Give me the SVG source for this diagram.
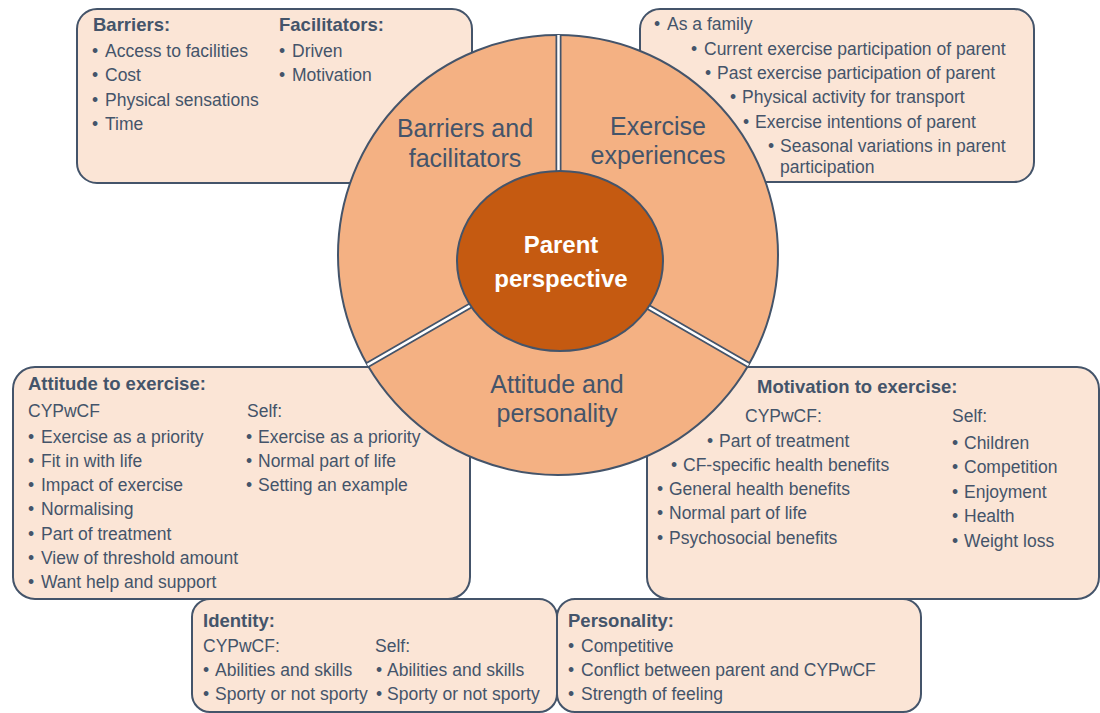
<svg xmlns="http://www.w3.org/2000/svg" width="1100" height="713" viewBox="0 0 1100 713">
<defs>
<style>
.box{fill:#FBE5D6;stroke:#44546A;stroke-width:2}
.t{font-family:"Liberation Sans",Arial,sans-serif;font-size:17.5px;fill:#44546A}
.b{font-weight:bold;font-size:18.5px}
.lbl{font-family:"Liberation Sans",Arial,sans-serif;font-size:25px;fill:#44546A;text-anchor:middle}
.ctr{font-family:"Liberation Sans",Arial,sans-serif;font-size:24px;font-weight:bold;fill:#FFFFFF;text-anchor:middle}
.divo{stroke:#44546A;stroke-width:6;fill:none}
.divi{stroke:#FFFFFF;stroke-width:2.5;fill:none}
</style>
<clipPath id="cc"><circle cx="558" cy="255" r="220"/></clipPath>
</defs>
<rect width="1100" height="713" fill="#FFFFFF"/>

<g id="barriers-box">
<rect class="box" x="77" y="9" width="395" height="174" rx="20"/>
<text class="t b" x="93" y="31">Barriers:</text>
<text class="t b" x="279" y="31">Facilitators:</text>
<text class="t" y="57"><tspan x="92">•</tspan><tspan x="105">Access to facilities</tspan></text>
<text class="t" y="81"><tspan x="92">•</tspan><tspan x="105">Cost</tspan></text>
<text class="t" y="106"><tspan x="92">•</tspan><tspan x="105">Physical sensations</tspan></text>
<text class="t" y="130"><tspan x="92">•</tspan><tspan x="105">Time</tspan></text>
<text class="t" y="57"><tspan x="279">•</tspan><tspan x="292">Driven</tspan></text>
<text class="t" y="81"><tspan x="279">•</tspan><tspan x="292">Motivation</tspan></text>
</g>

<g id="experiences-box">
<rect class="box" x="640" y="9" width="394" height="173" rx="20"/>
<text class="t" y="30"><tspan x="654">•</tspan><tspan x="667">As a family</tspan></text>
<text class="t" y="55"><tspan x="691">•</tspan><tspan x="704">Current exercise participation of parent</tspan></text>
<text class="t" y="79"><tspan x="705">•</tspan><tspan x="717">Past exercise participation of parent</tspan></text>
<text class="t" y="103"><tspan x="730">•</tspan><tspan x="742">Physical activity for transport</tspan></text>
<text class="t" y="128"><tspan x="743">•</tspan><tspan x="755">Exercise intentions of parent</tspan></text>
<text class="t" y="152"><tspan x="768">•</tspan><tspan x="780">Seasonal variations in parent</tspan></text>
<text class="t" x="780" y="173">participation</text>
</g>

<g id="attitude-box">
<rect class="box" x="13" y="367" width="457" height="232" rx="22"/>
<text class="t b" x="28" y="390">Attitude to exercise:</text>
<text class="t" x="28" y="417">CYPwCF</text>
<text class="t" x="247" y="417">Self:</text>
<text class="t" y="443"><tspan x="28">•</tspan><tspan x="41">Exercise as a priority</tspan></text>
<text class="t" y="467"><tspan x="28">•</tspan><tspan x="41">Fit in with life</tspan></text>
<text class="t" y="491"><tspan x="28">•</tspan><tspan x="41">Impact of exercise</tspan></text>
<text class="t" y="515"><tspan x="28">•</tspan><tspan x="41">Normalising</tspan></text>
<text class="t" y="540"><tspan x="28">•</tspan><tspan x="41">Part of treatment</tspan></text>
<text class="t" y="564"><tspan x="28">•</tspan><tspan x="41">View of threshold amount</tspan></text>
<text class="t" y="588"><tspan x="28">•</tspan><tspan x="41">Want help and support</tspan></text>
<text class="t" y="443"><tspan x="246">•</tspan><tspan x="258">Exercise as a priority</tspan></text>
<text class="t" y="467"><tspan x="246">•</tspan><tspan x="258">Normal part of life</tspan></text>
<text class="t" y="491"><tspan x="246">•</tspan><tspan x="258">Setting an example</tspan></text>
</g>

<g id="motivation-box">
<rect class="box" x="647" y="367" width="452" height="232" rx="22"/>
<text class="t b" x="757" y="393">Motivation to exercise:</text>
<text class="t" x="745" y="422">CYPwCF:</text>
<text class="t" x="952" y="422">Self:</text>
<text class="t" y="447"><tspan x="707">•</tspan><tspan x="719">Part of treatment</tspan></text>
<text class="t" y="471"><tspan x="671">•</tspan><tspan x="683">CF-specific health benefits</tspan></text>
<text class="t" y="495"><tspan x="657">•</tspan><tspan x="669">General health benefits</tspan></text>
<text class="t" y="519"><tspan x="657">•</tspan><tspan x="669">Normal part of life</tspan></text>
<text class="t" y="544"><tspan x="657">•</tspan><tspan x="669">Psychosocial benefits</tspan></text>
<text class="t" y="449"><tspan x="952">•</tspan><tspan x="964">Children</tspan></text>
<text class="t" y="473"><tspan x="952">•</tspan><tspan x="964">Competition</tspan></text>
<text class="t" y="498"><tspan x="952">•</tspan><tspan x="964">Enjoyment</tspan></text>
<text class="t" y="522"><tspan x="952">•</tspan><tspan x="964">Health</tspan></text>
<text class="t" y="547"><tspan x="952">•</tspan><tspan x="964">Weight loss</tspan></text>
</g>

<g id="identity-box">
<rect class="box" x="192" y="599" width="365" height="113" rx="18"/>
<text class="t b" x="203" y="627">Identity:</text>
<text class="t" x="203" y="652">CYPwCF:</text>
<text class="t" x="375" y="652">Self:</text>
<text class="t" y="676"><tspan x="203">•</tspan><tspan x="215">Abilities and skills</tspan></text>
<text class="t" y="700"><tspan x="203">•</tspan><tspan x="215">Sporty or not sporty</tspan></text>
<text class="t" y="676"><tspan x="376">•</tspan><tspan x="387">Abilities and skills</tspan></text>
<text class="t" y="700"><tspan x="376">•</tspan><tspan x="387">Sporty or not sporty</tspan></text>
</g>

<g id="personality-box">
<rect class="box" x="557" y="599" width="364" height="113" rx="18"/>
<text class="t b" x="568" y="627">Personality:</text>
<text class="t" y="652"><tspan x="568">•</tspan><tspan x="581">Competitive</tspan></text>
<text class="t" y="676"><tspan x="568">•</tspan><tspan x="581">Conflict between parent and CYPwCF</tspan></text>
<text class="t" y="700"><tspan x="568">•</tspan><tspan x="581">Strength of feeling</tspan></text>
</g>

<g id="ring">
<circle cx="558" cy="255" r="220" fill="#F4B183" stroke="#44546A" stroke-width="2"/>
<g clip-path="url(#cc)">
<path class="divo" d="M558.5 30 V255 M558 255 L365 366.4 M558 255 L751 366.4"/>
<path class="divi" d="M558.5 30 V255 M558 255 L365 366.4 M558 255 L751 366.4"/>
</g>
<text class="lbl" x="465" y="137">Barriers and</text>
<text class="lbl" x="465" y="167">facilitators</text>
<text class="lbl" x="658" y="135">Exercise</text>
<text class="lbl" x="658" y="164">experiences</text>
<text class="lbl" x="557" y="393">Attitude and</text>
<text class="lbl" x="557" y="422">personality</text>
</g>

<g id="centre">
<ellipse cx="560" cy="261" rx="103" ry="90" fill="#C55A11" stroke="#44546A" stroke-width="2"/>
<text class="ctr" x="561" y="253">Parent</text>
<text class="ctr" x="561" y="287">perspective</text>
</g>

<g id="connectors"/>
</svg>
